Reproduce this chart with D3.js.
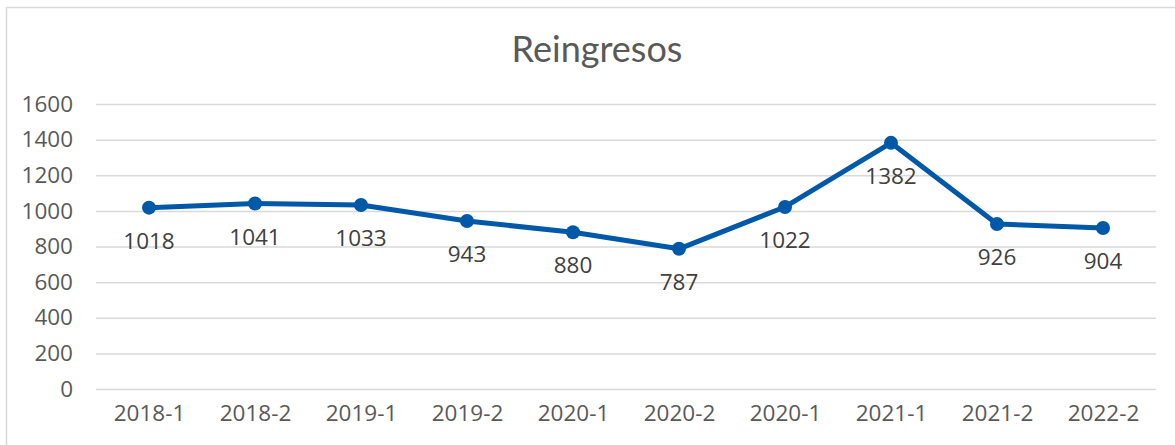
<!DOCTYPE html>
<html>
<head>
<meta charset="utf-8">
<script src="https://cdn.jsdelivr.net/npm/d3@7"></script>
<style>
  html, body { margin: 0; padding: 0; background: #fff; }
  svg { display: block; }
</style>
</head>
<body>
<div id="chart"></div>
<script>
const title = 'Reingresos';
const categories = ['2018-1', '2018-2', '2019-1', '2019-2', '2020-1', '2020-2', '2020-1', '2021-1', '2021-2', '2022-2'];
const values = [1018, 1041, 1033, 943, 880, 787, 1022, 1382, 926, 904];
const yTicks = [0, 200, 400, 600, 800, 1000, 1200, 1400, 1600];

const W = 1175, H = 445;
const margin = { top: 104, right: 19, bottom: 56, left: 96 };
const width = W - margin.left - margin.right;
const height = H - margin.top - margin.bottom;

const svg = d3.select('#chart')
  .append('svg')
  .attr('width', W)
  .attr('height', H);

// chart frame (only left and top edges visible)
svg.append('path')
  .attr('d', `M6.5,${H} L6.5,7.5 L${W},7.5`)
  .attr('fill', 'none')
  .attr('stroke', '#d9d9d9')
  .attr('stroke-width', 1.5);

svg.append('text')
  .attr('x', 597)
  .attr('y', 62)
  .attr('text-anchor', 'middle')
  .attr('font-family', 'Lato, sans-serif')
  .attr('font-size', 36)
  .attr('fill', '#595959')
  .text(title);

const g = svg.append('g')
  .attr('transform', `translate(${margin.left},${margin.top})`);

// index-based point scale so duplicate labels stay separate
const x = d3.scalePoint()
  .domain(d3.range(categories.length))
  .range([0, width])
  .padding(0.5);

const y = d3.scaleLinear()
  .domain([0, 1600])
  .range([height, 0]);

// Grid
g.append('g')
  .call(d3.axisLeft(y).tickValues(yTicks).tickSize(-width).tickFormat(''))
  .call(s => s.select('.domain').remove())
  .selectAll('line')
  .attr('stroke', '#d9d9d9')
  .attr('stroke-width', 1.5);

// Y axis labels
g.append('g')
  .call(d3.axisLeft(y).tickValues(yTicks).tickSize(0).tickPadding(23).tickFormat(d3.format('d')))
  .call(s => s.select('.domain').remove())
  .selectAll('text')
  .attr('font-family', '"Open Sans", sans-serif')
  .attr('font-size', 22.5)
  .attr('fill', '#595959');

// X axis labels
g.append('g')
  .attr('transform', `translate(0,${height})`)
  .call(d3.axisBottom(x).tickSize(0).tickPadding(16).tickFormat(i => categories[i]))
  .call(s => s.select('.domain').remove())
  .selectAll('text')
  .attr('font-family', '"Open Sans", sans-serif')
  .attr('font-size', 22.5)
  .attr('fill', '#595959');

const line = d3.line()
  .x((d, i) => x(i))
  .y(d => y(d));

g.append('path')
  .datum(values)
  .attr('fill', 'none')
  .attr('stroke', '#0058a8')
  .attr('stroke-width', 5)
  .attr('stroke-linejoin', 'round')
  .attr('d', line);

g.selectAll('circle.pt')
  .data(values)
  .join('circle')
  .attr('class', 'pt')
  .attr('cx', (d, i) => x(i))
  .attr('cy', d => y(d))
  .attr('r', 7)
  .attr('fill', '#0058a8');

g.selectAll('text.lbl')
  .data(values)
  .join('text')
  .attr('class', 'lbl')
  .attr('x', (d, i) => x(i))
  .attr('y', d => y(d) + 41)
  .attr('text-anchor', 'middle')
  .attr('font-family', '"Open Sans", sans-serif')
  .attr('font-size', 22.5)
  .attr('fill', '#404040')
  .text(d => d);
</script>
</body>
</html>
